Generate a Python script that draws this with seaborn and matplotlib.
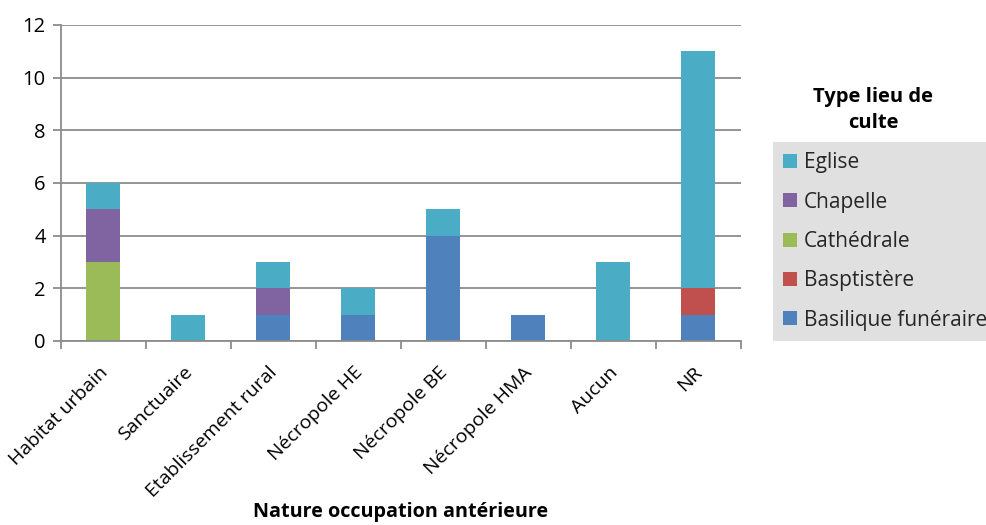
import numpy as np
import pandas as pd
import matplotlib
matplotlib.use("Agg")
import matplotlib.pyplot as plt
import seaborn as sns
from matplotlib.patches import Patch

categories = ["Habitat urbain", "Sanctuaire", "Etablissement rural", "Nécropole HE",
              "Nécropole BE", "Nécropole HMA", "Aucun", "NR"]
series_names = ["Basilique funéraire", "Basptistère", "Cathédrale", "Chapelle", "Eglise"]
basilique = [0, 0, 1, 1, 4, 1, 0, 1]
baptistere = [0, 0, 0, 0, 0, 0, 0, 1]
cathedrale = [3, 0, 0, 0, 0, 0, 0, 0]
chapelle = [2, 0, 1, 0, 0, 0, 0, 0]
eglise = [1, 1, 1, 1, 1, 0, 3, 9]
colors = ["#4F81BD", "#C0504D", "#9BBB59", "#8064A2", "#4BACC6"]

sns.set_theme(style="white")
plt.rcParams['font.family'] = ['Open Sans', 'DejaVu Sans']

fig = plt.figure(figsize=(9.87, 5.25), dpi=100)
ax = fig.add_axes([61/987, 1-341/525, 680/987, 316/525])

values = [basilique, baptistere, cathedrale, chapelle, eglise]
cum = np.cumsum(np.array(values), axis=0)
for i in range(len(series_names)-1, -1, -1):
    df = pd.DataFrame({"cat": categories, "val": cum[i]})
    sns.barplot(data=df, x="cat", y="val", color=colors[i], width=0.4,
                saturation=1, ax=ax, errorbar=None, order=categories,
                linewidth=0, edgecolor="none")

ax.set_ylim(0, 12)
ax.set_xlim(-0.5, len(categories)-0.5)
ax.set_yticks(range(0, 13, 2))
ax.yaxis.grid(True, color="#8C8C8C", linewidth=1.3)
ax.set_axisbelow(True)
for s in ["top", "right"]:
    ax.spines[s].set_visible(False)
for s in ["left", "bottom"]:
    ax.spines[s].set_color("#8C8C8C")
    ax.spines[s].set_linewidth(1.3)

ax.set_xticks(np.arange(-0.5, len(categories), 1))
ax.set_xticklabels([])
ax.tick_params(axis="x", length=6, color="#8C8C8C", width=1.3, direction="out", bottom=True)
ax.tick_params(axis="y", length=6, color="#8C8C8C", width=1.3, direction="out", left=True,
               labelsize=14.5, pad=5, labelcolor="black")
for i, c in enumerate(categories):
    ax.text(i - 0.06, -0.85, c, rotation=45, ha="right", va="top",
            rotation_mode="anchor", fontsize=14, transform=ax.transData, color="black")
ax.set_xlabel("")
ax.set_ylabel("")

fig.text(401/987, 1-512/525, "Nature occupation antérieure", ha="center", va="center",
         fontsize=14.2, fontweight="bold", color="black")

handles = [Patch(facecolor=colors[i], edgecolor="none") for i in range(len(series_names)-1, -1, -1)]
labels = [series_names[i] for i in range(len(series_names)-1, -1, -1)]
leg = fig.legend(handles, labels, loc="upper left", bbox_to_anchor=(773/987, 1-142/525),
                 frameon=True, fontsize=15, handlelength=0.65, handleheight=0.65,
                 handletextpad=0.35, labelspacing=0.88, borderpad=0.5, borderaxespad=0)
leg.get_frame().set_facecolor("#D9D9D9")
leg.get_frame().set_edgecolor("none")
leg.get_frame().set_boxstyle("square", pad=0)
fig.text(873/987, 1-110/525, "Type lieu de\nculte", ha="center", va="center",
         fontsize=14.5, fontweight="bold", linespacing=1.35, color="black")

fig.savefig("out.png", dpi=100)
